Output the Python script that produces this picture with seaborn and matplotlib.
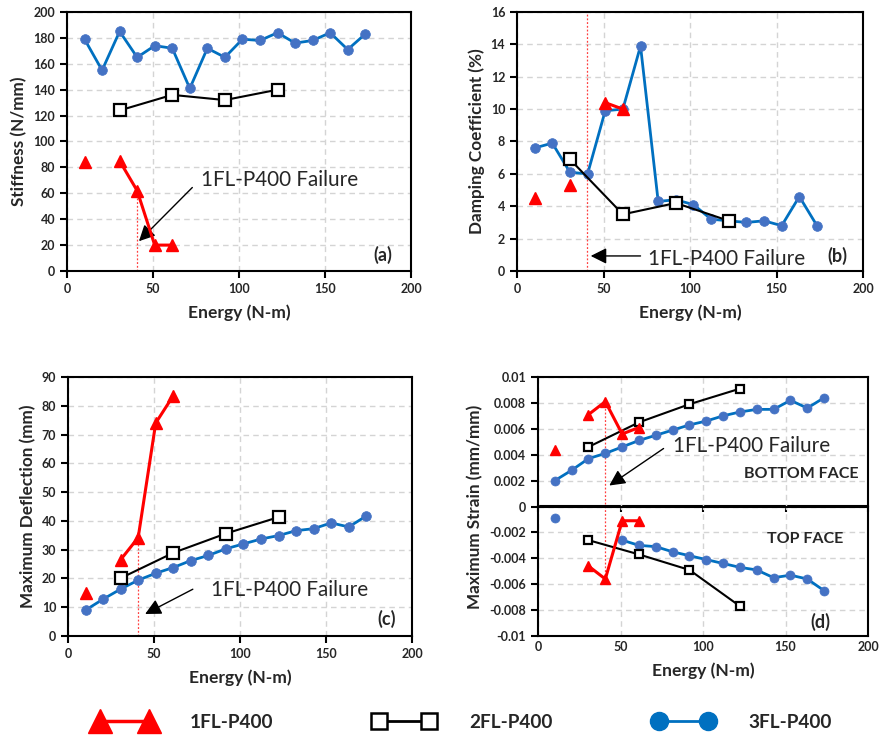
import numpy as np
import pandas as pd
import matplotlib
matplotlib.use('Agg')
import matplotlib.pyplot as plt
from matplotlib.lines import Line2D
from matplotlib.legend_handler import HandlerLine2D
from matplotlib.ticker import FuncFormatter
import seaborn as sns

nan = np.nan

# impact energy levels (N-m)
energy3 = [10.2, 20.4, 30.6, 40.8, 51.0, 61.2, 71.4, 81.6, 91.8, 102.0, 112.2,
           122.4, 132.6, 142.8, 153.0, 163.2, 173.4]
energy2 = [30.6, 61.2, 91.8, 122.4]
energy1 = [10.2, 20.4, 30.6, 40.8, 51.0, 61.2]

# (a) stiffness (N/mm)
stiff3 = [179, 155, 185, 165, 174, 172, 141, 172, 165, 179, 178, 184, 176, 178, 184, 171, 183]
stiff2 = [124, 136, 132, 140]
stiff1 = [84, nan, 85, 62, 20, 20]

# (b) damping coefficient (%)
damp3 = [7.6, 7.9, 6.1, 6.0, 9.9, 10.0, 13.9, 4.3, 4.4, 4.1, 3.2, 3.1, 3.0, 3.1, 2.8, 4.6, 2.8]
damp2 = [6.9, 3.5, 4.2, 3.1]
damp1 = [4.5, nan, 5.3, nan, 10.4, 10.0]

# (c) maximum deflection (mm)
defl3 = [9.0, 12.8, 16.3, 19.4, 21.8, 23.8, 26.2, 28.0, 30.3, 32.0, 33.7, 34.9, 36.6,
         37.3, 39.3, 37.9, 41.7]
defl2 = [20.1, 28.9, 35.6, 41.3]
defl1 = [15.0, nan, 26.5, 34.2, 74.0, 83.5]

# (d) maximum strain (mm/mm), bottom face and top face
bot3 = [0.0020, 0.0028, 0.0037, 0.0041, 0.0046, 0.0051, 0.0055, 0.0059, 0.0063, 0.0066,
        0.0070, 0.0073, 0.0075, 0.0075, 0.0082, 0.0076, 0.0084]
bot2 = [0.0046, 0.0065, 0.0079, 0.0091]
bot1 = [0.0044, nan, 0.0071, 0.0081, 0.0056, 0.0061]
top3 = [-0.0009, nan, nan, nan, -0.0026, -0.0030, -0.0031, -0.0035, -0.0038, -0.0041,
        -0.0044, -0.0047, -0.0049, -0.0055, -0.0053, -0.0056, -0.0065]
top2 = [-0.0026, -0.0037, -0.0049, -0.0077]
top1 = [nan, nan, -0.0046, -0.0056, -0.0011, -0.0011]

labels = ['1FL-P400', '2FL-P400', '3FL-P400']

RED = '#FF0000'
BLUE_LINE = '#0070C0'
BLUE_MARK = '#4472C4'

sns.set_style('ticks')
plt.rcParams['font.family'] = ['Lato', 'DejaVu Sans']
plt.rcParams['font.weight'] = 'bold'


def draw(ax, x, y, kind, small=False):
    df = pd.DataFrame({'x': x, 'y': y})
    # a missing value breaks the line into separate pieces
    df['seg'] = df['y'].isna().cumsum()
    df = df.dropna()
    if kind == 1:
        kw = dict(color=RED, marker='^', ms=7.5 if small else 8.5, markerfacecolor=RED,
                  markeredgecolor=RED, markeredgewidth=1, lw=2.2, zorder=5)
    elif kind == 2:
        kw = dict(color='black', marker='s', ms=5.5 if small else 8, markerfacecolor='white',
                  markeredgecolor='black', markeredgewidth=1.6, lw=1.5, zorder=4)
    else:
        kw = dict(color=BLUE_LINE, marker='o', ms=6.5 if small else 7, markerfacecolor=BLUE_MARK,
                  markeredgecolor=BLUE_MARK, markeredgewidth=0.5, lw=2, zorder=3)
    sns.lineplot(data=df, x='x', y='y', units='seg', estimator=None, ax=ax,
                 legend=False, **kw)


def style(ax, ylim, yticks, ylabel, tag, tagpos):
    ax.set_xlim(0, 200)
    ax.set_xticks([0, 50, 100, 150, 200])
    ax.set_ylim(*ylim)
    ax.set_yticks(yticks)
    ax.grid(True, color='#D4D4D4', linestyle=(0, (4, 3)), lw=1)
    ax.set_axisbelow(True)
    for s in ax.spines.values():
        s.set_color('black')
        s.set_linewidth(1.5)
    ax.tick_params(axis='both', labelsize=9, width=1.5, length=5, color='black')
    ax.set_xlabel('Energy (N-m)', fontsize=12.6, fontweight='bold', labelpad=7)
    ax.set_ylabel(ylabel, fontsize=12.3, fontweight='bold')
    ax.text(tagpos[0], tagpos[1], tag, transform=ax.transAxes, fontsize=13,
            fontweight='bold', ha='center', va='center')


fig = plt.figure(figsize=(8.82, 7.36), dpi=100)
W, H = 882, 736


def add_ax(l, t, r, b):
    return fig.add_axes([l / W, 1 - b / H, (r - l) / W, (b - t) / H])


ax_a = add_ax(67, 12, 411, 271)
ax_b = add_ax(517, 12, 863, 271)
ax_c = add_ax(68, 377, 412, 636)
ax_d = add_ax(538, 377, 868, 636)

dot = dict(color='#FF4040', ls=(0, (1.5, 1.5)), lw=0.9, zorder=2)
arrow = dict(arrowstyle='-|>', color='black', lw=1, mutation_scale=24)
ann_kw = dict(fontsize=14.9, fontweight='normal', va='center', ha='left')

# (a)
draw(ax_a, energy3, stiff3, 3)
draw(ax_a, energy2, stiff2, 2)
draw(ax_a, energy1, stiff1, 1)
style(ax_a, (0, 200), np.arange(0, 201, 20), 'Stiffness (N/mm)', '(a)', (0.918, 0.062))
ax_a.plot([40.8, 40.8], [0, 62], **dot)
ax_a.annotate('', xy=(40.7, 21.5), xytext=(74, 66), arrowprops=arrow)
ax_a.text(78, 70, '1FL-P400 Failure', **ann_kw)

# (b)
draw(ax_b, energy3, damp3, 3)
draw(ax_b, energy2, damp2, 2)
draw(ax_b, energy1, damp1, 1)
style(ax_b, (0, 16), np.arange(0, 17, 2), 'Damping Coefficient (%)', '(b)', (0.925, 0.058))
ax_b.axvline(40.5, **dot)
ax_b.annotate('', xy=(41, 0.93), xytext=(73, 0.93), arrowprops=arrow)
ax_b.text(76, 0.72, '1FL-P400 Failure', **ann_kw)

# (c)
draw(ax_c, energy3, defl3, 3)
draw(ax_c, energy2, defl2, 2)
draw(ax_c, energy1, defl1, 1)
style(ax_c, (0, 90), np.arange(0, 91, 10), 'Maximum Deflection (mm)', '(c)', (0.925, 0.066))
ax_c.plot([40.8, 40.8], [0, 34.2], **dot)
ax_c.annotate('', xy=(43.4, 7.2), xytext=(74, 16.7), arrowprops=arrow)
ax_c.text(83, 16, '1FL-P400 Failure', **ann_kw)

# (d)
draw(ax_d, energy3, bot3, 3, small=True)
draw(ax_d, energy3, top3, 3, small=True)
draw(ax_d, energy2, bot2, 2, small=True)
draw(ax_d, energy2, top2, 2, small=True)
draw(ax_d, energy1, bot1, 1, small=True)
draw(ax_d, energy1, top1, 1, small=True)
style(ax_d, (-0.01, 0.01), np.linspace(-0.01, 0.01, 11), 'Maximum Strain (mm/mm)', '(d)',
      (0.855, 0.055))
ax_d.yaxis.set_major_formatter(FuncFormatter(lambda v, p: '0' if abs(v) < 1e-12 else f'{round(v, 3):g}'))
ax_d.tick_params(axis='x', length=0)
# zero line with its own tick marks
ax_d.axhline(0, color='black', lw=1.5, zorder=2.5)
zero = ax_d.secondary_xaxis(0.5)
zero.set_xticks([0, 50, 100, 150, 200])
zero.set_xticklabels([])
zero.tick_params(axis='x', direction='in', length=4, width=1.5, color='black')
for s in zero.spines.values():
    s.set_linewidth(1.5)
    s.set_color('black')
ax_d.plot([40.8, 40.8], [-0.0056, 0.0081], **dot)
ax_d.annotate('', xy=(41.8, 0.0015), xytext=(77.5, 0.0046), arrowprops=arrow)
ax_d.text(82, 0.0047, '1FL-P400 Failure', **ann_kw)
ax_d.text(194, 0.0025, 'BOTTOM FACE', fontsize=11.5, fontweight='bold', ha='right', va='center')
ax_d.text(185, -0.0025, 'TOP FACE', fontsize=11.5, fontweight='bold', ha='right', va='center')

# shared legend along the bottom
handles = [
    Line2D([], [], color=RED, lw=2.5, marker='^', ms=17, markerfacecolor=RED, markeredgecolor=RED),
    Line2D([], [], color='black', lw=2, marker='s', ms=12, markerfacecolor='white',
           markeredgecolor='black', markeredgewidth=1.8),
    Line2D([], [], color=BLUE_LINE, lw=2, marker='o', ms=13, markerfacecolor=BLUE_LINE,
           markeredgecolor=BLUE_LINE),
]
fig.legend(handles, labels, loc='center', bbox_to_anchor=(0.513, 0.019), ncol=3,
           frameon=False, handlelength=5.4, handletextpad=0.7, columnspacing=4.2,
           prop={'weight': 'bold', 'size': 13.7},
           handler_map={Line2D: HandlerLine2D(marker_pad=1.4, numpoints=2)})

fig.savefig('out.png', dpi=100)
